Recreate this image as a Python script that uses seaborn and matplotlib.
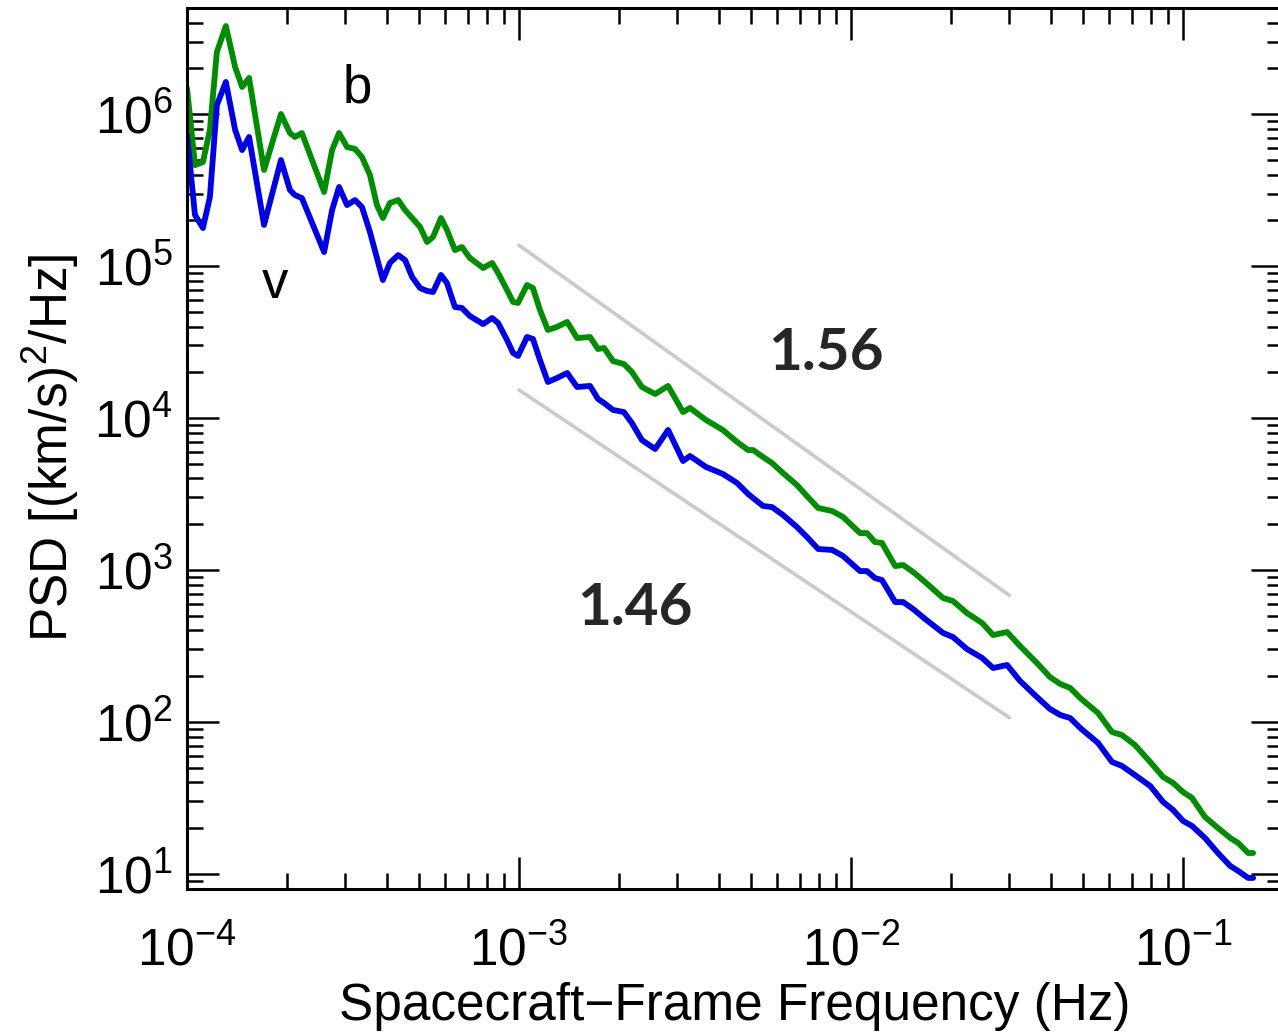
import numpy as np
import pandas as pd
import matplotlib
matplotlib.use("Agg")
import matplotlib.pyplot as plt
import seaborn as sns
from matplotlib.ticker import LogLocator, NullFormatter

# ---- data (log10 units) ----
log_freq = [-4.000, -3.976, -3.952, -3.931, -3.910, -3.883, -3.855, -3.834, -3.813, -3.768,
            -3.717, -3.690, -3.675, -3.654, -3.587, -3.563, -3.542, -3.518, -3.494, -3.473,
            -3.449, -3.428, -3.410, -3.389, -3.364, -3.343, -3.322, -3.298, -3.277, -3.259,
            -3.235, -3.217, -3.193, -3.172, -3.148, -3.108, -3.081, -3.063, -3.036, -3.018,
            -3.003, -2.976, -2.958, -2.937, -2.913, -2.886, -2.855, -2.825, -2.786, -2.762,
            -2.744, -2.717, -2.684, -2.660, -2.630, -2.590, -2.551, -2.506, -2.485, -2.437,
            -2.386, -2.343, -2.310, -2.295, -2.265, -2.238, -2.205, -2.163, -2.130, -2.099,
            -2.057, -2.024, -1.973, -1.952, -1.928, -1.907, -1.867, -1.843, -1.813, -1.777,
            -1.723, -1.693, -1.651, -1.605, -1.572, -1.530, -1.491, -1.440, -1.401, -1.370,
            -1.340, -1.310, -1.256, -1.214, -1.184, -1.145, -1.099, -1.060, -1.030, -1.000,
            -0.973, -0.934, -0.895, -0.858, -0.834, -0.804, -0.789]

log_psd_b = [6.171, 5.664, 5.684, 5.895, 6.408, 6.579, 6.309, 6.178, 6.237, 5.632,
             6.000, 5.875, 5.849, 5.875, 5.487, 5.763, 5.875, 5.783, 5.770, 5.717,
             5.599, 5.401, 5.316, 5.414, 5.434, 5.368, 5.316, 5.257, 5.158, 5.191,
             5.316, 5.237, 5.105, 5.125, 5.053, 4.987, 5.020, 4.954, 4.842, 4.763,
             4.757, 4.875, 4.855, 4.711, 4.579, 4.599, 4.632, 4.526, 4.533, 4.454,
             4.461, 4.375, 4.355, 4.303, 4.204, 4.158, 4.211, 4.039, 4.066, 3.987,
             3.921, 3.842, 3.789, 3.789, 3.743, 3.704, 3.638, 3.559, 3.480, 3.408,
             3.388, 3.349, 3.243, 3.243, 3.184, 3.178, 3.026, 3.033, 2.987, 2.921,
             2.816, 2.796, 2.717, 2.651, 2.572, 2.592, 2.500, 2.388, 2.296, 2.250,
             2.224, 2.158, 2.059, 1.934, 1.914, 1.849, 1.737, 1.638, 1.599, 1.539,
             1.500, 1.375, 1.303, 1.237, 1.204, 1.138, 1.138]

log_psd_v = [5.862, 5.336, 5.250, 5.454, 6.059, 6.211, 5.895, 5.763, 5.849, 5.270,
             5.697, 5.500, 5.467, 5.447, 5.092, 5.368, 5.520, 5.401, 5.434, 5.388,
             5.224, 5.053, 4.908, 5.020, 5.072, 5.039, 4.928, 4.855, 4.836, 4.829,
             4.941, 4.888, 4.730, 4.724, 4.671, 4.618, 4.658, 4.625, 4.513, 4.428,
             4.408, 4.533, 4.520, 4.382, 4.237, 4.263, 4.296, 4.204, 4.211, 4.125,
             4.099, 4.053, 4.039, 3.967, 3.855, 3.796, 3.921, 3.717, 3.750, 3.678,
             3.632, 3.572, 3.500, 3.474, 3.421, 3.414, 3.362, 3.283, 3.211, 3.138,
             3.132, 3.092, 2.993, 2.993, 2.947, 2.934, 2.789, 2.789, 2.743, 2.678,
             2.586, 2.559, 2.480, 2.421, 2.355, 2.375, 2.270, 2.164, 2.086, 2.046,
             2.026, 1.961, 1.862, 1.737, 1.711, 1.651, 1.579, 1.474, 1.421, 1.349,
             1.316, 1.237, 1.138, 1.053, 1.020, 0.974, 0.974]

# power-law fit guide lines
fit_freq = [1e-3, 3e-2]
fit_b_amp, fit_b_slope = 1.37e5, 1.56
fit_v_amp, fit_v_slope = 1.53e4, 1.46
fit_labels = ["1.56", "1.46"]

series_labels = ["b", "v"]

# ---- build tables ----
freq = 10 ** np.array(log_freq)
df = pd.DataFrame({
    "freq": np.concatenate([freq, freq]),
    "psd": np.concatenate([10 ** np.array(log_psd_b), 10 ** np.array(log_psd_v)]),
    "series": ["b"] * len(freq) + ["v"] * len(freq),
})
ff = np.array(fit_freq)
fit_df = pd.DataFrame({
    "freq": np.concatenate([ff, ff]),
    "psd": np.concatenate([fit_b_amp * (ff / 1e-3) ** (-fit_b_slope),
                           fit_v_amp * (ff / 1e-3) ** (-fit_v_slope)]),
    "fit": ["b", "b", "v", "v"],
})

# ---- style ----
sns.set_theme(style="ticks")
plt.rcParams["font.family"] = ["Liberation Sans", "DejaVu Sans"]
plt.rcParams["mathtext.fontset"] = "custom"
plt.rcParams["mathtext.rm"] = "Liberation Sans"
plt.rcParams["mathtext.it"] = "Liberation Sans:italic"
plt.rcParams["mathtext.bf"] = "Liberation Sans:bold"

fig = plt.figure(figsize=(12.78, 10.34), dpi=100)
ax = fig.add_axes([187 / 1278, 1 - 888.7 / 1034, (1283 - 187) / 1278, (888.7 - 7.8) / 1034])
ax.set_xscale("log")
ax.set_yscale("log")

sns.lineplot(data=fit_df, x="freq", y="psd", units="fit", estimator=None,
             color="#c9cacf", lw=2.6, ax=ax, legend=False)
sns.lineplot(data=df, x="freq", y="psd", hue="series", estimator=None, sort=False,
             palette={"b": "#008c00", "v": "#0000e0"}, lw=4.2, ax=ax, legend=False)

ax.set_xlim(1e-4, 0.2)
ax.set_ylim(8, 5e6)

for s in ax.spines.values():
    s.set_linewidth(2.2)
    s.set_color("black")

ax.xaxis.set_major_locator(LogLocator(base=10, numticks=20))
ax.xaxis.set_minor_locator(LogLocator(base=10, subs=np.arange(2, 10), numticks=50))
ax.yaxis.set_major_locator(LogLocator(base=10, numticks=20))
ax.yaxis.set_minor_locator(LogLocator(base=10, subs=np.arange(2, 10), numticks=50))
ax.xaxis.set_minor_formatter(NullFormatter())
ax.yaxis.set_minor_formatter(NullFormatter())

ax.tick_params(which="both", direction="in", top=True, right=True, color="black", width=1.8)
ax.tick_params(which="major", length=23, labelsize=37, labelcolor="black")
ax.tick_params(which="minor", length=11.5)
ax.tick_params(axis="x", which="major", pad=27)
ax.tick_params(axis="y", which="major", pad=10)

ax.set_xlabel("Spacecraft\u2212Frame Frequency (Hz)", fontsize=37, color="black", labelpad=4)
ax.set_ylabel("PSD [(km/s)$^{2}$/Hz]", fontsize=37, color="black", labelpad=10)

# annotations
ax.text(3.27e-4, 1.2e6, series_labels[0], fontsize=38, ha="center", va="baseline", color="black")
ax.text(1.84e-4, 6.15e4, series_labels[1], fontsize=38, ha="center", va="baseline", color="black")
ax.text(8.4e-3, 2.07e4, fit_labels[0], fontsize=42, fontweight="bold", family="Lato",
        ha="center", va="baseline", color="#262626")
ax.text(2.23e-3, 434, fit_labels[1], fontsize=42, fontweight="bold", family="Lato",
        ha="center", va="baseline", color="#262626")

fig.savefig("out.png", dpi=100)
